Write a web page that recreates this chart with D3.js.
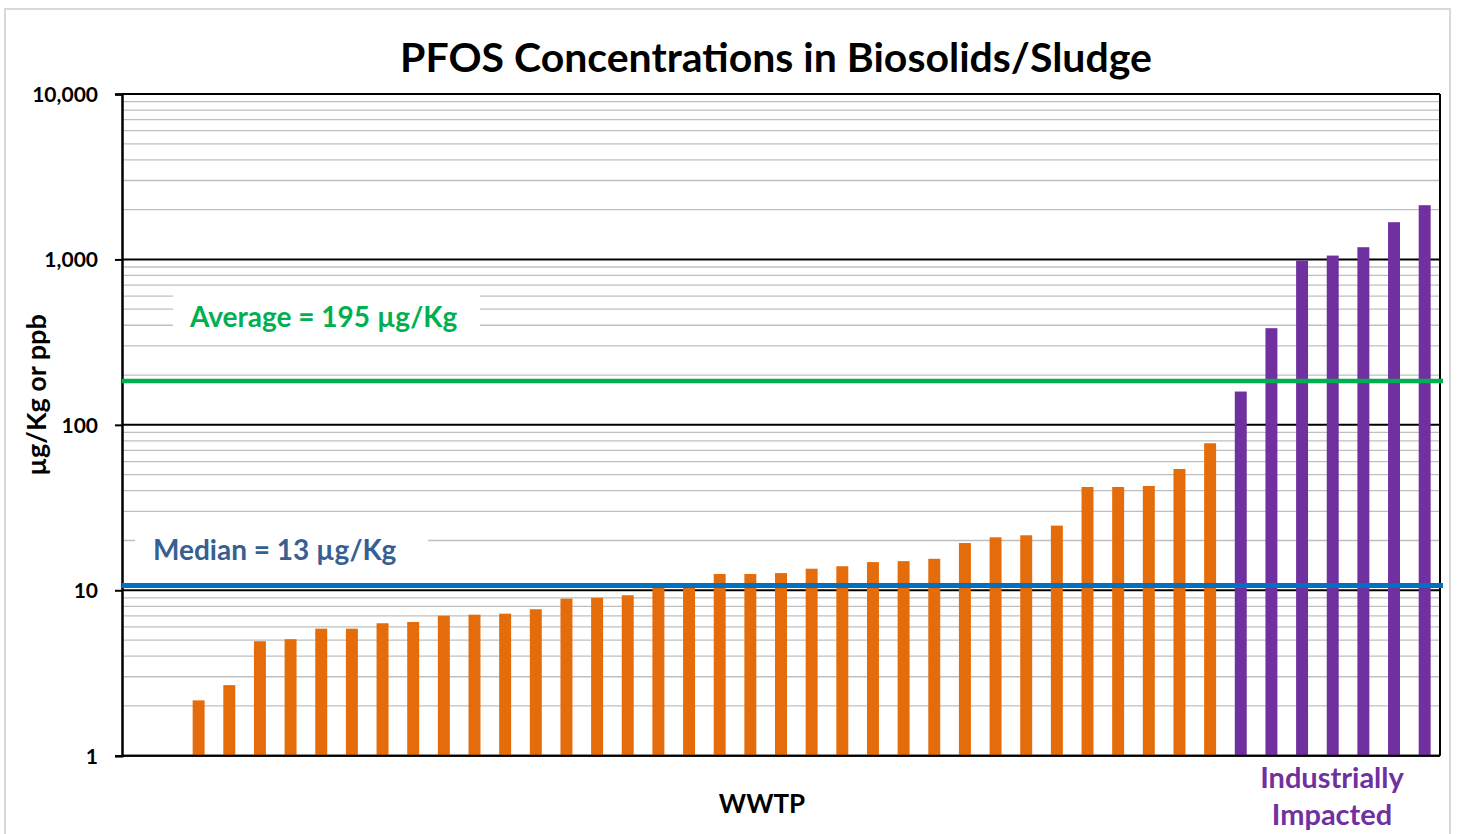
<!DOCTYPE html>
<html>
<head>
<meta charset="utf-8">
<script src="https://cdn.jsdelivr.net/npm/d3@7"></script>
<style>
  body { margin: 0; background: #fff; }
  text { font-family: Lato, "Open Sans", sans-serif; }
</style>
</head>
<body>
<div id="chart"></div>
<script>
// Data (µg/Kg, log scale). First two WWTP slots are empty (below 1).
const wwtpValues = [
  null, null, 2.16, 2.67, 4.92, 5.06, 5.86, 5.86, 6.32, 6.43, 7.02, 7.12, 7.22,
  7.68, 8.9, 9.02, 9.33, 10.6, 10.6, 12.55, 12.55, 12.7, 13.5, 13.97, 14.8,
  15.0, 15.5, 19.3, 20.9, 21.5, 24.6, 42.1, 42.1, 42.7, 54.1, 77.4
];
const industrialValues = [159, 384, 984, 1055, 1185, 1679, 2127];
const groupNames = ["WWTP", "Industrially Impacted"];
const groupColors = ["#E46C0A", "#7030A0"];
const yTicks = [1, 10, 100, 1000, 10000];
const averageValue = 184; // drawn position of the line
const medianValue = 10.7;
const averageLabel = "Average = 195 µg/Kg";
const medianLabel = "Median = 13 µg/Kg";

let data = [];
wwtpValues.forEach((v, i) => data.push({ id: "W" + (i + 1), group: 0, value: v }));
industrialValues.forEach((v, i) => data.push({ id: "I" + (i + 1), group: 1, value: v }));

const W = 1457, H = 834;
const plot = { left: 122, right: 1440, top: 94, bottom: 755.7 };

const svg = d3.select("#chart").append("svg")
  .attr("width", W).attr("height", H);

// outer chart frame
svg.append("rect")
  .attr("x", 5).attr("y", 9)
  .attr("width", 1445).attr("height", 840)
  .attr("fill", "#fff")
  .attr("stroke", "#D9D9D9")
  .attr("stroke-width", 2);

let x = d3.scaleBand()
  .domain(data.map(d => d.id))
  .range([plot.left, plot.right])
  .paddingInner(0.61)
  .paddingOuter(0.305);

let y = d3.scaleLog()
  .domain([1, 10000])
  .range([plot.bottom, plot.top]);

// minor gridlines (2..9 within each decade)
let minor = [];
for (let dec = 1; dec < 10000; dec *= 10) {
  for (let m = 2; m <= 9; m++) minor.push(dec * m);
}
svg.append("g")
  .selectAll("line")
  .data(minor)
  .enter()
  .append("line")
  .attr("x1", plot.left).attr("x2", plot.right)
  .attr("y1", d => y(d)).attr("y2", d => y(d))
  .attr("stroke", "#BFBFBF")
  .attr("stroke-width", 1.3);

// major gridlines
svg.append("g")
  .selectAll("line")
  .data(yTicks)
  .enter()
  .append("line")
  .attr("x1", plot.left).attr("x2", plot.right)
  .attr("y1", d => y(d)).attr("y2", d => y(d))
  .attr("stroke", "#000")
  .attr("stroke-width", 2);

// white boxes behind the labels
svg.append("rect")
  .attr("x", 173).attr("y", 290).attr("width", 307).attr("height", 50)
  .attr("fill", "#fff");
svg.append("rect")
  .attr("x", 135).attr("y", 527).attr("width", 293).attr("height", 48)
  .attr("fill", "#fff");

// bars
svg.append("g")
  .selectAll("rect")
  .data(data.filter(d => d.value != null))
  .enter()
  .append("rect")
  .attr("x", d => x(d.id))
  .attr("width", x.bandwidth())
  .attr("y", d => y(d.value))
  .attr("height", d => y(1) - y(d.value))
  .attr("fill", d => groupColors[d.group]);

// right border
svg.append("line")
  .attr("x1", plot.right).attr("x2", plot.right)
  .attr("y1", plot.top).attr("y2", plot.bottom)
  .attr("stroke", "#000").attr("stroke-width", 2);

// Y axis
let yAxis = svg.append("g")
  .attr("transform", `translate(${plot.left},0)`)
  .call(d3.axisLeft(y).tickValues(yTicks).tickFormat(d3.format(",")).tickSize(7).tickPadding(17));
yAxis.select(".domain").attr("stroke", "#000").attr("stroke-width", 2.5);
yAxis.selectAll(".tick line").attr("stroke", "#000").attr("stroke-width", 2);
yAxis.selectAll(".tick text")
  .style("font-size", "21px")
  .style("font-weight", "bold")
  .attr("fill", "#000")
  .attr("dy", "0.36em");

// bottom axis line
svg.append("line")
  .attr("x1", plot.left).attr("x2", plot.right)
  .attr("y1", plot.bottom).attr("y2", plot.bottom)
  .attr("stroke", "#000").attr("stroke-width", 2);

// average and median lines
svg.append("line")
  .attr("x1", plot.left).attr("x2", plot.right + 3)
  .attr("y1", y(averageValue)).attr("y2", y(averageValue))
  .attr("stroke", "#00B050").attr("stroke-width", 4.5);
svg.append("line")
  .attr("x1", plot.left).attr("x2", plot.right + 3)
  .attr("y1", y(medianValue)).attr("y2", y(medianValue))
  .attr("stroke", "#0070C0").attr("stroke-width", 5);

svg.append("text")
  .attr("x", 190).attr("y", 327)
  .style("font-size", "28px").style("font-weight", "bold")
  .attr("fill", "#00B050")
  .text(averageLabel);
svg.append("text")
  .attr("x", 153).attr("y", 560)
  .style("font-size", "28px").style("font-weight", "bold")
  .attr("fill", "#366092")
  .text(medianLabel);

// Title
svg.append("text")
  .attr("x", 776).attr("y", 72)
  .attr("text-anchor", "middle")
  .style("font-size", "41px").style("font-weight", "bold")
  .attr("fill", "#000")
  .text("PFOS Concentrations in Biosolids/Sludge");

// Y axis label
svg.append("text")
  .attr("transform", "translate(46,395) rotate(-90)")
  .attr("text-anchor", "middle")
  .style("font-size", "27px").style("font-weight", "bold")
  .attr("fill", "#000")
  .text("µg/Kg or ppb");

// group labels
svg.append("text")
  .attr("x", 762).attr("y", 813)
  .attr("text-anchor", "middle")
  .style("font-size", "26px").style("font-weight", "bold")
  .attr("fill", "#000")
  .text(groupNames[0]);

svg.append("text")
  .attr("x", 1332).attr("y", 788)
  .attr("text-anchor", "middle")
  .style("font-size", "29px").style("font-weight", "bold")
  .attr("fill", "#7030A0")
  .selectAll("tspan")
  .data(["Industrially", "Impacted"])
  .enter()
  .append("tspan")
  .attr("x", 1332)
  .attr("dy", (d, i) => (i === 0 ? 0 : "1.27em"))
  .text(d => d);
</script>
</body>
</html>
